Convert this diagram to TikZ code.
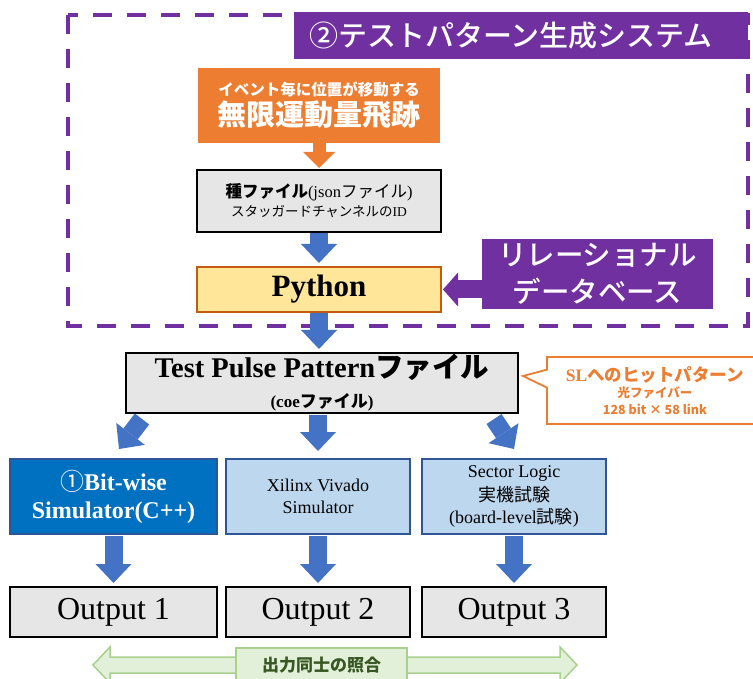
\documentclass[tikz,border=0pt]{standalone}
\usepackage{fontspec}
\setmainfont{Liberation Serif}
\newfontfamily\jp{Noto Sans CJK JP}
\newfontfamily\jpm{Noto Sans CJK JP Medium}
\usetikzlibrary{arrows.meta,shapes.callouts,calc}

\definecolor{cpurple}{HTML}{7030A0}
\definecolor{corange}{HTML}{ED7D31}
\definecolor{arrblue}{HTML}{4472C4}
\definecolor{cblue}{HTML}{0070C0}
\definecolor{bborder}{HTML}{2F5597}
\definecolor{lightblue}{HTML}{BDD7EE}
\definecolor{boxgray}{HTML}{E7E6E6}
\definecolor{pyyellow}{HTML}{FFE699}
\definecolor{pyborder}{HTML}{C55A11}
\definecolor{gfill}{HTML}{E2F0D9}
\definecolor{gmid}{HTML}{A9D18E}
\definecolor{gdark}{HTML}{385723}

\newcommand{\fsz}[2]{\fontsize{#1}{#2}\selectfont}

\begin{document}
\begin{tikzpicture}[x=1pt,y=-1pt,
  every node/.style={inner sep=0pt, outer sep=0pt, align=center, anchor=center},
  graybox/.style={draw=black, line width=1.4pt, fill=boxgray},
  bluebox/.style={draw=bborder, line width=1.2pt, fill=lightblue},
  barrow/.style={arrblue, line width=18pt,
    -{Triangle[width=36pt,length=19pt,line width=0pt]}},
  oarrow/.style={corange, line width=13pt,
    -{Triangle[width=32pt,length=16pt,line width=0pt]}},
  parrow/.style={cpurple, line width=18pt,
    -{Triangle[width=34pt,length=15pt,line width=0pt]}},
]
\useasboundingbox (0,0) rectangle (753,679);
\clip (0,0) rectangle (753,679);
\fill[white] (0,0) rectangle (753,679);

% frame of the pattern generation system
\draw[cpurple, line width=4pt, dash pattern=on 19pt off 15pt] (68,15) rectangle (748,326);

\node[fill=cpurple, minimum width=454pt, minimum height=47pt, text=white,
      font=\jpm\fsz{29}{32}] (title) at (521,35.5)
      {②テストパターン生成システム\hspace*{20pt}};

\node[fill=corange, minimum width=242pt, minimum height=75pt, text=white,
      font=\jp\bfseries\fsz{29}{30}] (track) at (319,105.5)
      {{\fsz{15.5}{18}イベント毎に位置が移動する}\\無限運動量飛跡};

\node[graybox, minimum width=244pt, minimum height=62pt, font=\fsz{16.5}{19}]
      (seed) at (319,201)
      {{\jp\bfseries 種ファイル}(json{\jp ファイル})\\{\fsz{13.5}{19}{\jp スタッガードチャンネルの}ID}};

\node[draw=pyborder, line width=1.3pt, fill=pyyellow, minimum width=244pt,
      minimum height=45pt, font=\bfseries\fsz{31}{34}] (py) at (319,289.5) {Python};

\node[fill=cpurple, minimum width=231pt, minimum height=70pt, text=white,
      font=\jpm\fsz{28.5}{37}] (db) at (597.5,274) {リレーショナル\\データベース};

\node[graybox, minimum width=392pt, minimum height=60pt, font=\bfseries\fsz{28.5}{30}]
      (tp) at (322,383)
      {Test Pulse Pattern{\jpm ファイル}\\{\fsz{17}{30}(coe{\jp\bfseries ファイル})}};

\node[rectangle callout, draw=corange, line width=1.8pt, fill=white,
      minimum width=216pt, minimum height=67pt,
      callout absolute pointer={($(tp.east)+(5,-7)$)}, callout pointer width=18pt,
      text=corange, font=\bfseries\fsz{12.5}{16.5}] (sl) at (655,390.5)
      {{\fsz{17.5}{16.5}SL{\jp へのヒットパターン}}\\{\jp 光ファイバー}\\{\jp 128 bit × 58 link}};

% simulators and test bench
\node[fill=cblue, draw=bborder, line width=1.2pt, minimum width=207pt, minimum height=75pt,
      text=white, font=\bfseries\fsz{24}{28}] (b1) at (113.5,496.5)
      {{\jp\mdseries ①}Bit-wise\\Simulator(C++)};
\node[bluebox, minimum width=184pt, minimum height=75pt, font=\fsz{18}{22.5}]
      (b2) at (318,496.5) {Xilinx Vivado\\Simulator};
\node[bluebox, minimum width=184pt, minimum height=75pt, font=\fsz{18}{23.5}]
      (b3) at (514,496.5) {\raisebox{-3pt}{\shortstack{Sector Logic\\[2pt]{\jp 実機試験}\\[2pt](board-level{\jp 試験})}}};

% outputs
\node[graybox, minimum width=207pt, minimum height=50pt, font=\fsz{32}{34}]
      (o1) at (113.5,612) {Output 1};
\node[graybox, minimum width=184pt, minimum height=50pt, font=\fsz{32}{34}]
      (o2) at (318,612) {Output 2};
\node[graybox, minimum width=184pt, minimum height=50pt, font=\fsz{32}{34}]
      (o3) at (514,612) {Output 3};

% comparison band
\draw[draw=gmid, fill=gfill, line width=1.5pt]
  (93,665) -- (110,647) -- (110,657) -- (560,657) -- (560,647) -- (577,665)
  -- (560,683) -- (560,673) -- (110,673) -- (110,683) -- cycle;
\node[draw=gmid, line width=1.3pt, fill=gfill, minimum width=171pt, minimum height=34pt,
      text=gdark, font=\jp\bfseries\fsz{17}{20}] (cmp) at (321.5,665) {出力同士の照合};

% block arrows
\draw[oarrow] (track.south) -- ([yshift=2pt]seed.north);
\draw[barrow] ([yshift=-1pt]seed.south) -- ([yshift=4pt]py.north);
\coordinate (pytp) at (py.south |- tp.north);
\draw[barrow] ([yshift=-1pt]py.south) -- ([yshift=4pt]pytp);
\draw[parrow] (db.west |- py.east) -- ([xshift=2pt]py.east);

\coordinate (mid) at (tp.south -| b2.north);
\draw[barrow] ([xshift=-180pt,yshift=-6pt]tp.south) -- ([xshift=5.5pt,yshift=10pt]b1.north);
\draw[barrow] ([yshift=-2pt]mid) -- ([yshift=8pt]b2.north);
\draw[barrow] ([xshift=172pt,yshift=-6pt]tp.south) -- ([yshift=10pt]b3.north);

\draw[barrow] ([yshift=-2pt]b1.south) -- ([yshift=4pt]o1.north);
\draw[barrow] ([yshift=-2pt]b2.south) -- ([yshift=4pt]o2.north);
\draw[barrow] ([yshift=-2pt]b3.south) -- ([yshift=4pt]o3.north);
\end{tikzpicture}
\end{document}
